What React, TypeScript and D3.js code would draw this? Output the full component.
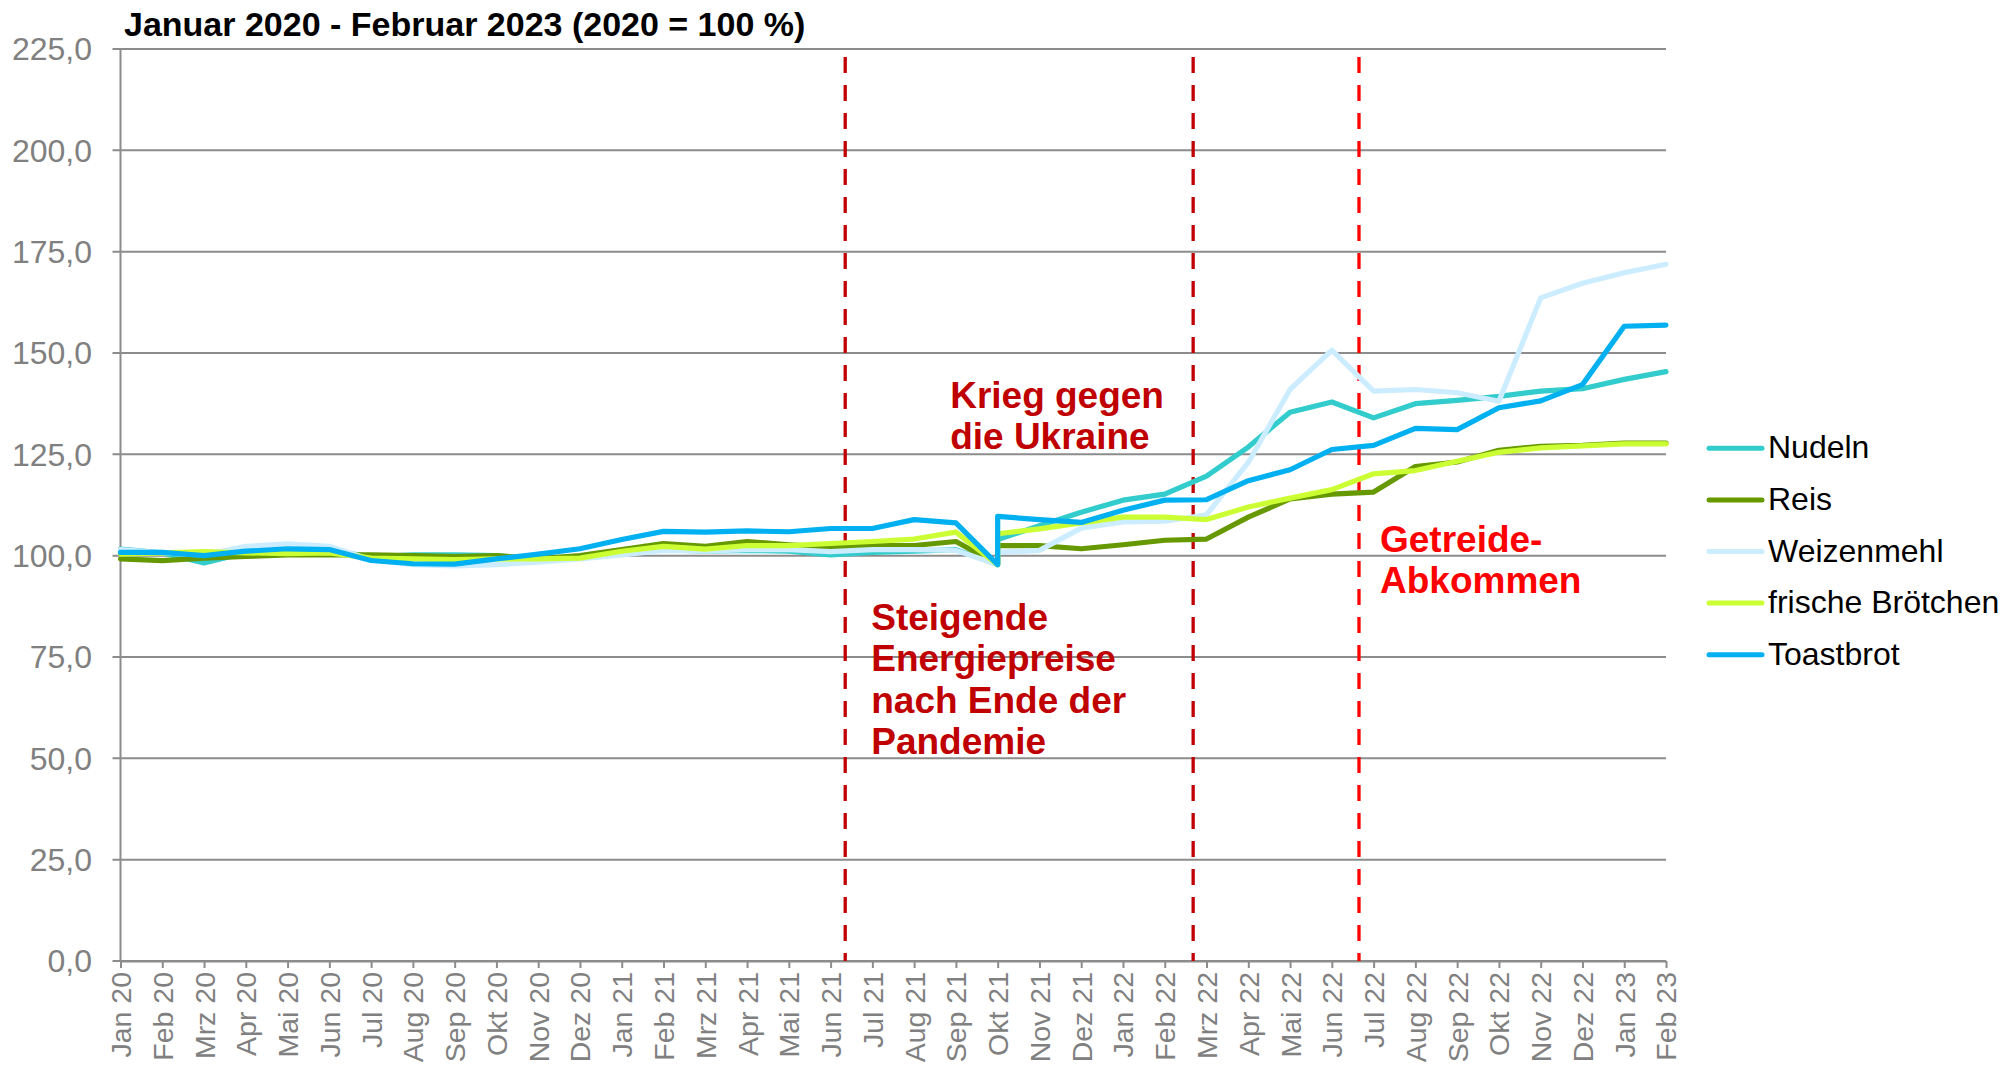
import * as d3 from "d3";
import React, { useEffect, useRef } from "react";

// Monate der x-Achse (Jan 20 bis Feb 23).
const months = [
  "Jan 20", "Feb 20", "Mrz 20", "Apr 20", "Mai 20", "Jun 20", "Jul 20", "Aug 20", "Sep 20", "Okt 20", "Nov 20", "Dez 20",
  "Jan 21", "Feb 21", "Mrz 21", "Apr 21", "Mai 21", "Jun 21", "Jul 21", "Aug 21", "Sep 21", "Okt 21", "Nov 21", "Dez 21",
  "Jan 22", "Feb 22", "Mrz 22", "Apr 22", "Mai 22", "Jun 22", "Jul 22", "Aug 22", "Sep 22", "Okt 22", "Nov 22", "Dez 22",
  "Jan 23", "Feb 23",
];

// Datenzeilen: Okt 21 kommt zweimal vor (zwei Werte im selben Monat).
const rowMonths = [
  "Jan 20", "Feb 20", "Mrz 20", "Apr 20", "Mai 20", "Jun 20", "Jul 20", "Aug 20", "Sep 20", "Okt 20", "Nov 20", "Dez 20",
  "Jan 21", "Feb 21", "Mrz 21", "Apr 21", "Mai 21", "Jun 21", "Jul 21", "Aug 21", "Sep 21", "Okt 21", "Okt 21", "Nov 21", "Dez 21",
  "Jan 22", "Feb 22", "Mrz 22", "Apr 22", "Mai 22", "Jun 22", "Jul 22", "Aug 22", "Sep 22", "Okt 22", "Nov 22", "Dez 22",
  "Jan 23", "Feb 23",
];

const nudeln = [
  101.6, 100.7, 98.2, 100.7, 101.0, 101.3, 99.7, 100.2, 100.2, 100.0, 99.0, 99.7,
  100.7, 101.5, 101.1, 101.3, 101.1, 100.2, 100.8, 101.1, 101.5, 97.8, 104.0, 107.4, 110.7,
  113.7, 115.2, 119.6, 126.8, 135.4, 137.9, 134.0, 137.5, 138.3, 139.3, 140.6, 141.2,
  143.5, 145.4,
];
const reis = [
  99.2, 98.8, 99.4, 99.8, 100.2, 100.2, 100.2, 100.0, 99.8, 100.0, 99.2, 100.0,
  101.5, 103.0, 102.3, 103.5, 102.7, 102.1, 102.5, 102.5, 103.5, 97.8, 102.5, 102.5, 101.7,
  102.7, 103.8, 104.1, 109.5, 114.0, 115.2, 115.7, 122.0, 123.1, 126.0, 127.0, 127.2,
  127.8, 127.8,
];
const weizenmehl = [
  101.5, 100.7, 100.2, 102.3, 102.9, 102.3, 99.0, 97.8, 97.5, 97.8, 98.4, 99.2,
  100.2, 101.3, 101.1, 101.5, 101.5, 101.0, 101.5, 101.5, 101.3, 97.8, 100.8, 101.3, 106.8,
  108.3, 108.5, 110.1, 123.0, 141.0, 150.7, 140.6, 141.0, 140.2, 138.1, 163.6, 167.2,
  169.8, 171.9,
];
const broetchen = [
  100.4, 100.7, 101.0, 100.7, 100.5, 100.7, 99.4, 99.2, 99.0, 99.2, 99.2, 99.4,
  101.1, 102.3, 101.6, 102.5, 102.5, 103.0, 103.5, 104.1, 105.8, 97.8, 105.4, 106.6, 108.1,
  109.5, 109.5, 108.9, 112.0, 114.2, 116.3, 120.2, 121.0, 123.3, 125.5, 126.6, 127.1,
  127.6, 127.6,
];
const toastbrot = [
  100.8, 100.8, 100.0, 101.1, 101.7, 101.5, 98.8, 98.0, 97.9, 99.2, 100.4, 101.7,
  104.0, 106.0, 105.8, 106.1, 105.9, 106.7, 106.7, 108.9, 108.1, 97.8, 109.7, 108.9, 108.2,
  111.2, 113.7, 113.8, 118.5, 121.2, 126.2, 127.2, 131.4, 131.1, 136.5, 138.2, 142.2,
  156.6, 156.9,
];

const seriesNames = ["Nudeln", "Reis", "Weizenmehl", "frische Brötchen", "Toastbrot"];
const seriesValues = [nudeln, reis, weizenmehl, broetchen, toastbrot];
const seriesColors = ["#33CCCC", "#669900", "#CCECFF", "#CCFF33", "#00B0F0"];

const yTicks = [0, 25, 50, 75, 100, 125, 150, 175, 200, 225];

// Ereignisse: Position als Monatsindex (zwischen zwei Monaten).
const eventPositions = [17.35, 25.68, 29.65];
const eventColors = ["#C00000", "#C00000", "#FF0000"];
const eventLabels = [
  ["Steigende", "Energiepreise", "nach Ende der", "Pandemie"],
  ["Krieg gegen", "die Ukraine"],
  ["Getreide-", "Abkommen"],
];

export default function App() {
  const ref = useRef<SVGSVGElement>(null);
  const width = 2015;
  const height = 1069;

  useEffect(() => {
    const svg = d3.select(ref.current);
    svg.selectAll("*").remove();

    const margin = { top: 49, right: 349, bottom: 107, left: 120.5 };
    const font = "'Liberation Sans', Arial, sans-serif";

    const x = d3.scaleLinear([0, months.length - 1], [margin.left, width - margin.right]);
    const y = d3.scaleLinear([0, 225], [height - margin.bottom - 1, margin.top]);
    const fmt = (d: number) => d3.format(".1f")(d).replace(".", ",");

    // Titel
    svg
      .append("text")
      .attr("x", 124)
      .attr("y", 36)
      .attr("font-family", font)
      .attr("font-weight", "bold")
      .attr("font-size", 34)
      .attr("fill", "#000")
      .text("Januar 2020 - Februar 2023 (2020 = 100 %)");

    // Gitternetz + y-Beschriftung
    const grid = svg.append("g");
    grid
      .selectAll("line")
      .data(yTicks)
      .join("line")
      .attr("x1", margin.left - 8)
      .attr("x2", x(months.length - 1))
      .attr("y1", (d) => y(d))
      .attr("y2", (d) => y(d))
      .attr("stroke", "#8C8C8C")
      .attr("stroke-width", 2);
    grid
      .selectAll("text")
      .data(yTicks)
      .join("text")
      .attr("x", 92)
      .attr("y", (d) => y(d))
      .attr("dy", "0.35em")
      .attr("text-anchor", "end")
      .attr("font-family", font)
      .attr("font-size", 32)
      .attr("fill", "#808080")
      .text(fmt);

    // y-Achsenlinie
    svg
      .append("line")
      .attr("x1", margin.left)
      .attr("x2", margin.left)
      .attr("y1", y(225))
      .attr("y2", y(0))
      .attr("stroke", "#8C8C8C")
      .attr("stroke-width", 2);

    // x-Achse
    const xAxis = d3
      .axisBottom(x)
      .tickValues(d3.range(months.length))
      .tickFormat((i) => months[i as number])
      .tickSizeInner(7)
      .tickSizeOuter(0);
    svg
      .append("g")
      .attr("transform", `translate(0,${y(0)})`)
      .call(xAxis)
      .call((g) => g.select(".domain").attr("stroke", "#8C8C8C").attr("stroke-width", 2))
      .call((g) => g.selectAll(".tick line").attr("stroke", "#8C8C8C").attr("stroke-width", 2))
      .selectAll("text")
      .attr("font-family", font)
      .attr("font-size", 28.5)
      .attr("fill", "#808080")
      .attr("text-anchor", "end")
      .attr("transform", "rotate(-90)")
      .attr("x", -11)
      .attr("y", 0)
      .attr("dy", "0.35em");

    // Ereignislinien (gestrichelt)
    svg
      .append("g")
      .selectAll("line")
      .data(eventPositions)
      .join("line")
      .attr("x1", (d) => x(d))
      .attr("x2", (d) => x(d))
      .attr("y1", 57)
      .attr("y2", y(0))
      .attr("stroke", (_, i) => eventColors[i])
      .attr("stroke-width", 3.3)
      .attr("stroke-dasharray", "16,12");

    // Linien der Produkte
    const line = d3
      .line<number>()
      .x((_, i) => x(months.indexOf(rowMonths[i])))
      .y((d) => y(d));
    svg
      .append("g")
      .selectAll("path")
      .data(seriesValues)
      .join("path")
      .attr("d", (d) => line(d))
      .attr("fill", "none")
      .attr("stroke", (_, i) => seriesColors[i])
      .attr("stroke-width", 5.2)
      .attr("stroke-linejoin", "round")
      .attr("stroke-linecap", "round");

    // Beschriftungen der Ereignisse
    const labelPos = [
      { x: x(eventPositions[0]) + 26, y: 630 },
      { x: x(eventPositions[1]) - 243, y: 408 },
      { x: x(eventPositions[2]) + 21, y: 552 },
    ];
    eventLabels.forEach((lines, k) => {
      const t = svg
        .append("text")
        .attr("font-family", font)
        .attr("font-weight", "bold")
        .attr("font-size", 37)
        .attr("fill", eventColors[k]);
      lines.forEach((s, j) => {
        t.append("tspan")
          .attr("x", labelPos[k].x)
          .attr("y", labelPos[k].y + j * 41.3)
          .text(s);
      });
    });

    // Legende
    const legend = svg
      .append("g")
      .selectAll("g")
      .data(seriesNames)
      .join("g")
      .attr("transform", (_, i) => `translate(1709,${448.3 + i * 51.6})`);
    legend
      .append("line")
      .attr("x1", 0)
      .attr("x2", 53)
      .attr("stroke", (_, i) => seriesColors[i])
      .attr("stroke-width", 5)
      .attr("stroke-linecap", "round");
    legend
      .append("text")
      .attr("x", 59)
      .attr("y", 10)
      .attr("font-family", font)
      .attr("font-size", 32)
      .attr("fill", "#000")
      .text((d) => d);
  }, []);

  return (
    <svg
      ref={ref}
      width={width}
      height={height}
      style={{ position: "absolute", left: 0, top: 0, background: "#fff" }}
    ></svg>
  );
}
